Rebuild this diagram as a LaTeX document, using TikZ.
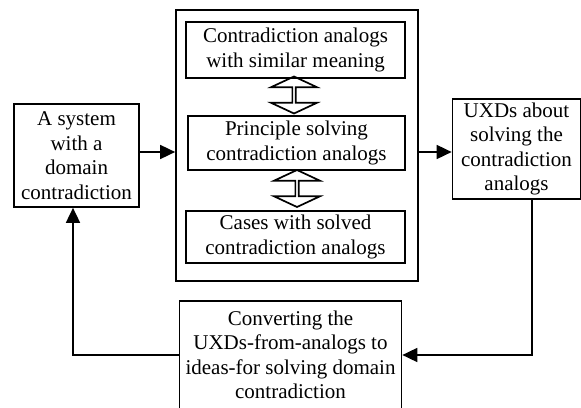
\documentclass[tikz,border=0pt]{standalone}
\usepackage{fontspec}
\setmainfont{Liberation Serif}
\usetikzlibrary{arrows.meta,shapes.arrows}

\begin{document}
\begin{tikzpicture}[x=1pt,y=-1pt,
  box/.style={draw,line width=1.7pt,align=center,inner sep=0pt,font=\fontsize{21}{24.5}\selectfont},
  flow/.style={-{Triangle[length=15pt,width=14pt]},line width=1.7pt},
  dbl/.style={draw,line width=1.7pt,double arrow,rotate=90,minimum height=37pt,minimum width=46pt,double arrow head extend=11pt,double arrow tip angle=130,inner sep=0pt}]
\useasboundingbox (0,0) rectangle (581,407);

\node[box,minimum width=125pt,minimum height=103pt] at(76.5,155.5) (sys) {A system\\with a\\domain\\contradiction};

\node[draw,line width=1.7pt,minimum width=242pt,minimum height=271pt] at(297,145.5) (db) {};

\node[box,minimum width=219pt,minimum height=56pt] at(295.5,50) (sim) {Contradiction analogs\\with similar meaning};
\node[box,minimum width=217pt,minimum height=54pt] at(296.5,143) (prin) {Principle solving\\contradiction analogs};
\node[box,minimum width=219pt,minimum height=52pt] at(295.5,237) (cases) {Cases with solved\\contradiction analogs};

\node[dbl] at(294,95) (dd1) {};
\node[dbl] at(297,188.5) (dd2) {};

\node[box,minimum width=128pt,minimum height=100pt] at(516.5,149) (uxd) {UXDs about\\solving the\\contradiction\\analogs};

\node[box,minimum width=222pt,minimum height=108pt] at(290.5,355) (conv) {Converting the\\UXDs-from-analogs to\\ideas-for solving domain\\contradiction};

\coordinate (mid) at (0,152);
\coordinate (rd) at (532,355);
\coordinate (ld) at (73,355);

\draw[flow] (sys.east |- mid) -- (db.west |- mid);
\draw[flow] (db.east |- mid) -- (uxd.west |- mid);

\draw[flow] (uxd.south -| rd) -- (rd) -- (conv.east);
\draw[flow] (conv.west) -- (ld) -- (sys.south -| ld);
\end{tikzpicture}
\end{document}
